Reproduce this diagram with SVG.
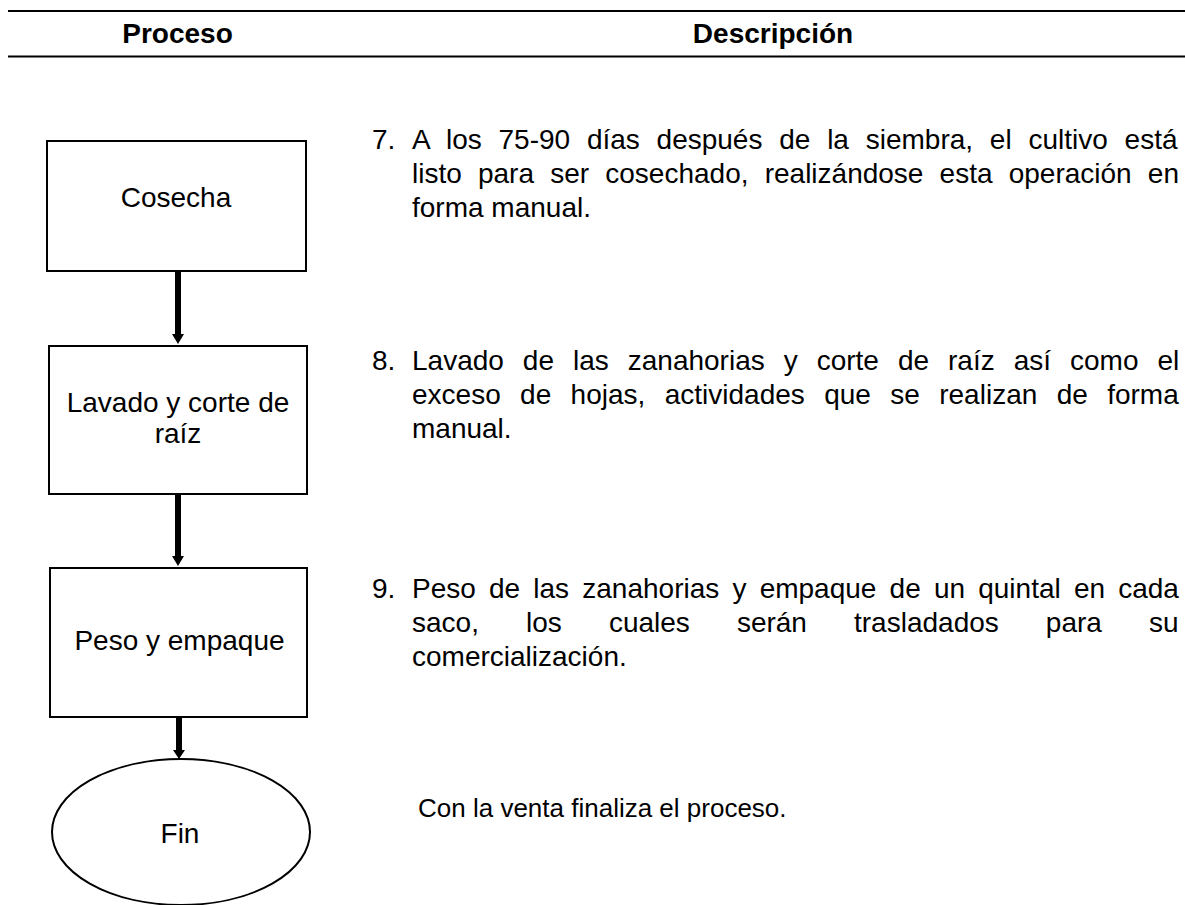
<svg xmlns="http://www.w3.org/2000/svg" width="1185" height="905" viewBox="0 0 1185 905">
<style>
.hd{font-family:"Liberation Sans",Arial,sans-serif;font-weight:bold;font-size:28px;fill:#000}
.nt{font-family:"Liberation Sans",Arial,sans-serif;font-size:28px;fill:#000;text-anchor:middle}
.bt{font-family:"Liberation Sans",Arial,sans-serif;font-size:28px;fill:#000}
.sm{font-family:"Liberation Sans",Arial,sans-serif;font-size:26px;fill:#000}
.box{fill:#fff;stroke:#000;stroke-width:2}
.rule{stroke:#000;stroke-width:2}
.shaft{stroke:#000;stroke-width:6}
</style>
<rect width="1185" height="905" fill="#fff"/>
<g id="header">
<line class="rule" x1="8" y1="11" x2="1185" y2="11"/>
<line class="rule" x1="8" y1="56.5" x2="1185" y2="56.5"/>
<text class="hd" x="177.5" y="43" text-anchor="middle">Proceso</text>
<text class="hd" x="773" y="43" text-anchor="middle">Descripción</text>
</g>
<g id="connectors">
<line class="shaft" x1="178" y1="272" x2="178" y2="336"/>
<polygon points="172,334 184,334 178,344"/>
<line class="shaft" x1="178" y1="495" x2="178" y2="558"/>
<polygon points="172,556 184,556 178,566"/>
<line class="shaft" x1="179" y1="718" x2="179" y2="752"/>
<polygon points="173,750 185,750 179,759"/>
</g>
<g id="node-cosecha">
<rect class="box" x="47" y="141" width="259" height="130"/>
<text class="nt" x="176" y="207">Cosecha</text>
</g>
<g id="node-lavado">
<rect class="box" x="49" y="346" width="258" height="148"/>
<text class="nt" x="178" y="412">Lavado y corte de</text>
<text class="nt" x="178" y="443">raíz</text>
</g>
<g id="node-peso">
<rect class="box" x="50" y="568" width="257" height="149"/>
<text class="nt" x="179.5" y="650">Peso y empaque</text>
</g>
<g id="node-fin">
<ellipse class="box" cx="181" cy="832" rx="129" ry="73"/>
<text class="nt" x="180" y="843">Fin</text>
</g>
<g id="desc-7">
<text class="bt" x="372" y="149">7.</text>
<text class="bt" x="412" y="149" style="word-spacing:9px">A los 75-90 días después de la siembra, el cultivo está</text>
<text class="bt" x="412" y="183" style="word-spacing:8.4px">listo para ser cosechado, realizándose esta operación en</text>
<text class="bt" x="412" y="217">forma manual.</text>
</g>
<g id="desc-8">
<text class="bt" x="372" y="370">8.</text>
<text class="bt" x="412" y="370" style="word-spacing:11.2px">Lavado de las zanahorias y corte de raíz así como el</text>
<text class="bt" x="412" y="404" style="word-spacing:11.6px">exceso de hojas, actividades que se realizan de forma</text>
<text class="bt" x="412" y="438">manual.</text>
</g>
<g id="desc-9">
<text class="bt" x="372" y="598">9.</text>
<text class="bt" x="412" y="598" style="word-spacing:5.4px">Peso de las zanahorias y empaque de un quintal en cada</text>
<text class="bt" x="412" y="632" style="word-spacing:39.3px">saco, los cuales serán trasladados para su</text>
<text class="bt" x="412" y="666">comercialización.</text>
</g>
<g id="desc-fin">
<text class="sm" x="418" y="817">Con la venta finaliza el proceso.</text>
</g>
</svg>
